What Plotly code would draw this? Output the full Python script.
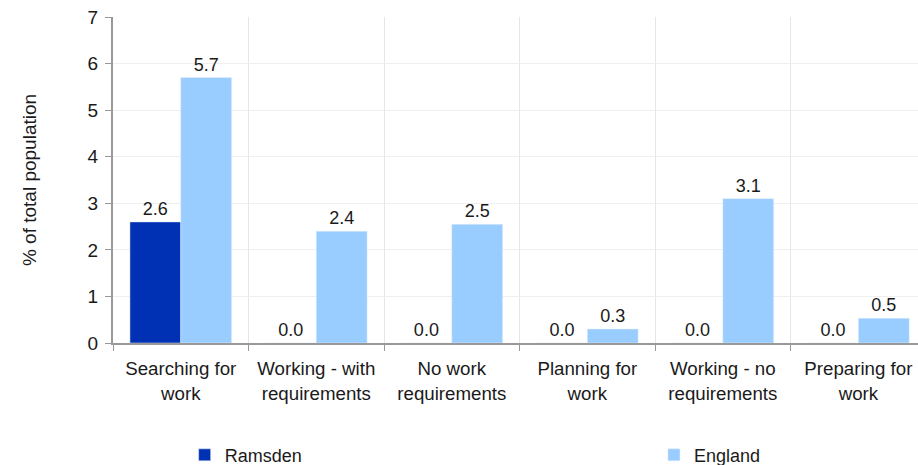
import plotly.graph_objects as go

categories = ["Searching for<br>work", "Working - with<br>requirements", "No work<br>requirements",
              "Planning for<br>work", "Working - no<br>requirements", "Preparing for<br>work"]
ramsden = [2.6, 0.0, 0.0, 0.0, 0.0, 0.0]
england = [5.7, 2.4, 2.55, 0.3, 3.1, 0.53]

font = "Liberation Sans, Arial, sans-serif"

fig = go.Figure()
fig.add_trace(go.Bar(x=categories, y=ramsden, name="Ramsden", marker_color="#0030b4",
                     text=[f"{v:.1f}" for v in ramsden], textposition="outside",
                     textfont=dict(size=18, color="#1a1a1a"), cliponaxis=False,
                     legend="legend"))
fig.add_trace(go.Bar(x=categories, y=england, name="England", marker_color="#99ccff",
                     text=[f"{v:.1f}" for v in england], textposition="outside",
                     textfont=dict(size=18, color="#1a1a1a"), cliponaxis=False,
                     legend="legend2"))

fig.update_layout(
    width=918, height=465,
    margin=dict(l=113, r=0, t=17, b=122, autoexpand=False),
    paper_bgcolor="white", plot_bgcolor="white",
    font=dict(family=font, size=18, color="#1a1a1a"),
    barmode="group", bargap=0.25, bargroupgap=0,
    showlegend=True,
    legend=dict(orientation="h", x=0.089, xanchor="left", y=-0.344, yanchor="middle",
                font=dict(size=18), itemclick=False),
    legend2=dict(orientation="h", x=0.672, xanchor="left", y=-0.344, yanchor="middle",
                 font=dict(size=18), itemclick=False),
    uniformtext=dict(mode=False),
)
fig.update_xaxes(
    range=[-0.5, 5.44], tickson="boundaries", ticks="outside", ticklen=6,
    tickcolor="#999999", showline=True, linecolor="#999999", linewidth=2,
    showgrid=True, gridcolor="#e6e6e6", gridwidth=1,
    tickfont=dict(size=18.7), automargin=False, ticklabelstandoff=8,
    ticklabeloverflow="allow",
)
fig.update_yaxes(
    range=[0, 7], dtick=1, ticks="outside", ticklen=6, tickcolor="#999999",
    showline=True, linecolor="#999999", linewidth=2,
    showgrid=True, gridcolor="#efefef", gridwidth=1, zeroline=False,
    title=dict(text="% of total population", font=dict(size=19), standoff=46),
    tickfont=dict(size=19), automargin=False, ticklabelstandoff=3,
    ticklabeloverflow="allow",
)

fig.write_html("out.html", config={"displayModeBar": False},
               post_script="document.body.style.margin='0';document.body.style.overflow='hidden';")
